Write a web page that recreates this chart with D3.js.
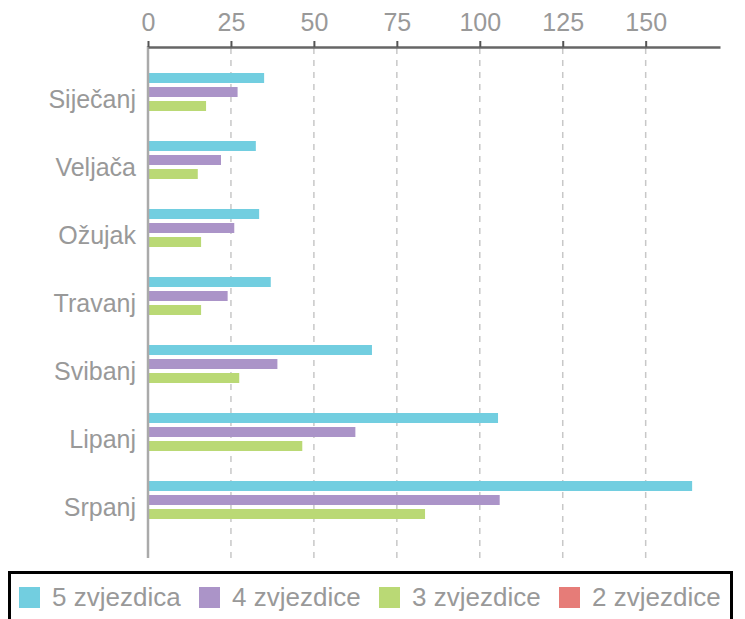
<!DOCTYPE html>
<html>
<head>
<meta charset="utf-8">
<script src="https://cdn.jsdelivr.net/npm/d3@7"></script>
<style>
  body { margin: 0; background: #fff; }
  text { font-family: "Liberation Sans", Arial, sans-serif; }
</style>
</head>
<body>
<div id="chart"></div>
<script>
var mjeseci = ["Siječanj", "Veljača", "Ožujak", "Travanj", "Svibanj", "Lipanj", "Srpanj"];
var serije = ["5 zvjezdica", "4 zvjezdice", "3 zvjezdice", "2 zvjezdice"];
var boje = ["#72cee0", "#ab94c8", "#bad975", "#e67c78"];
var pet = [35, 32.5, 33.5, 37, 67.5, 105.5, 164];
var cetiri = [27, 22, 26, 24, 39, 62.5, 106];
var tri = [17.5, 15, 16, 16, 27.5, 46.5, 83.5];
var dvije = [0, 0, 0, 0, 0, 0, 0];
var oznake = [0, 25, 50, 75, 100, 125, 150];

var vrijednosti = [pet, cetiri, tri, dvije];

var svg = d3.select("#chart").append("svg").attr("width", 745).attr("height", 619);

var x = d3.scaleLinear().domain([0, 172.4]).range([148, 720]);
var y = d3.scaleBand().domain(mjeseci).range([65, 541])
  .paddingInner(16/68).paddingOuter(8/68);
var y1 = d3.scaleBand().domain(serije).range([0, y.bandwidth()]).paddingInner(4/14);

// mreza
svg.append("g").selectAll("line").data(oznake.slice(1)).enter().append("line")
  .attr("x1", d => x(d)).attr("x2", d => x(d))
  .attr("y1", 48).attr("y2", 558)
  .attr("stroke", "#c8c8c8").attr("stroke-width", 1.5)
  .attr("stroke-dasharray", "6,6");

// stupci
mjeseci.forEach(function(m, i) {
  serije.forEach(function(s, j) {
    var v = vrijednosti[j][i];
    if (v <= 0) return;
    svg.append("rect")
      .attr("x", x(0) + 1)
      .attr("y", y(m) + y1(s))
      .attr("width", x(v) - x(0) - 1)
      .attr("height", y1.bandwidth())
      .attr("fill", boje[j]);
  });
});

// lijeva os
svg.append("line").attr("x1", 148).attr("x2", 148).attr("y1", 46).attr("y2", 558)
  .attr("stroke", "#aaa").attr("stroke-width", 2.5);

// gornja os
var os = svg.append("g").attr("transform", "translate(0,47)")
  .call(d3.axisTop(x).tickValues(oznake).tickSize(6).tickPadding(10).tickSizeOuter(0));
os.select(".domain").attr("stroke", "#666").attr("stroke-width", 2.5);
os.selectAll(".tick line").attr("stroke", "#555").attr("stroke-width", 2);
os.selectAll(".tick text").attr("fill", "#999").style("font-size", "25px")
  .style("font-family", "'Liberation Sans', Arial, sans-serif");

// kategorije
svg.append("g").selectAll("text").data(mjeseci).enter().append("text")
  .attr("x", 136)
  .attr("y", d => y(d) + y.bandwidth() / 2 + 9)
  .attr("text-anchor", "end")
  .attr("fill", "#999")
  .style("font-size", "25px")
  .text(d => d);

// legenda
svg.append("rect").attr("x", 9.5).attr("y", 572.5).attr("width", 722).attr("height", 60)
  .attr("fill", "none").attr("stroke", "#000").attr("stroke-width", 3);
var leg = svg.append("g").selectAll("g").data(serije).enter().append("g")
  .attr("transform", (d, i) => "translate(" + (19 + i * 180) + ",587)");
leg.append("rect").attr("width", 21).attr("height", 21).attr("fill", (d, i) => boje[i]);
leg.append("text").attr("x", 33).attr("y", 19).attr("fill", "#999")
  .style("font-size", "26px").text(d => d);
</script>
</body>
</html>
